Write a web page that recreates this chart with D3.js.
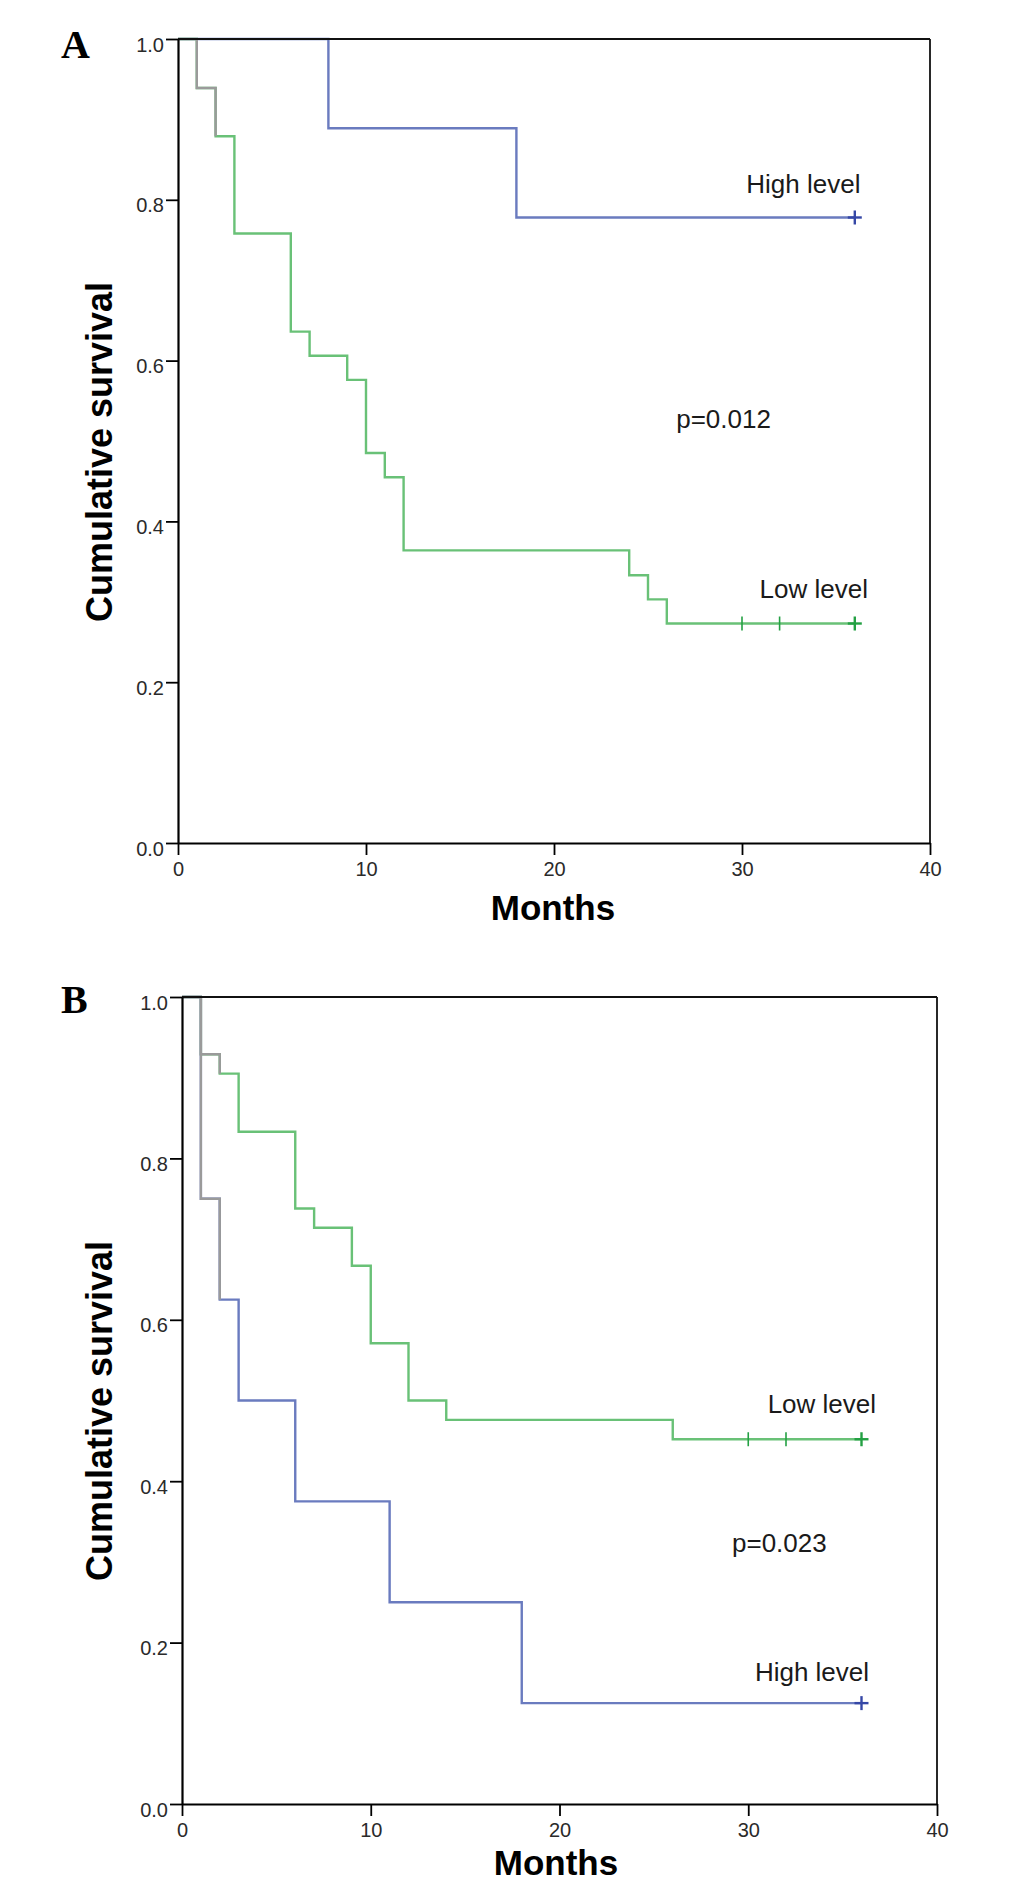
<!DOCTYPE html>
<html lang="en">
<head>
<meta charset="utf-8">
<title>Kaplan-Meier survival curves</title>
<script src="https://d3js.org/d3.v7.min.js"></script>
<style>
    body { margin: 0; background: #fff; }
    .axis-title { font-family: "Liberation Sans", Arial, sans-serif; font-weight: bold; fill: #000; }
    .note { font-family: "Liberation Sans", Arial, sans-serif; font-size: 26px; fill: #1a1a1a; }
    .panel-letter { font-family: "Liberation Serif", "Times New Roman", serif; font-weight: bold; font-size: 40px; }
</style>
</head>
<body>
<div id="chart"></div>
<script>

// axis ticks (shared by both panels)
var monthTicks = [0, 10, 20, 30, 40];
var survivalTicks = [0, 0.2, 0.4, 0.6, 0.8, 1.0];
var followUpEnd = 36;
var grayUntil = 2;   // early part of curves drawn grey in the original

// Panel A
var aHighTimes = [0, 8, 18];
var aHighSurv = [1, 0.889, 0.778];
var aHighCensor = [36];
var aLowTimes = [0, 1, 2, 3, 6, 7, 9, 10, 11, 12, 24, 25, 26];
var aLowSurv = [1, 0.939, 0.879, 0.758, 0.636, 0.606, 0.576, 0.485, 0.455, 0.364, 0.333, 0.303, 0.273];
var aLowCensor = [30, 32, 36];

// Panel B
var bLowTimes = [0, 1, 2, 3, 6, 7, 9, 10, 12, 14, 26];
var bLowSurv = [1, 0.929, 0.905, 0.833, 0.738, 0.714, 0.667, 0.571, 0.5, 0.476, 0.452];
var bLowCensor = [30, 32, 36];
var bHighTimes = [0, 1, 2, 3, 6, 11, 18];
var bHighSurv = [1, 0.75, 0.625, 0.5, 0.375, 0.25, 0.125];
var bHighCensor = [36];

var green = "#69c177", greenDark = "#23a043";
var blue = "#6a7bbf", blueDark = "#3547a6";
var gray = "#9a9a9a";

var w = 1033, h = 1884;

var svg = d3.select("#chart").append("svg")
    .attr("width", w)
    .attr("height", h);

var panels = [
    {
        letter: "A", letterX: 61, letterY: 58,
        left: 178, right: 930, top: 39, bottom: 843,
        yTitle: [112, 452], xTitle: [553, 920],
        curves: [
            { times: aHighTimes, surv: aHighSurv, censor: aHighCensor, color: blue, dark: blueDark, gray: false },
            { times: aLowTimes, surv: aLowSurv, censor: aLowCensor, color: green, dark: greenDark, gray: true }
        ],
        notes: [
            { text: "High level", t: 36.3, s: 0.808, anchor: "end" },
            { text: "p=0.012", t: 26.5, s: 0.516, anchor: "start" },
            { text: "Low level", t: 36.7, s: 0.305, anchor: "end" }
        ]
    },
    {
        letter: "B", letterX: 61, letterY: 1013,
        left: 182, right: 937, top: 997, bottom: 1804,
        yTitle: [112, 1411], xTitle: [556, 1875],
        curves: [
            { times: bLowTimes, surv: bLowSurv, censor: bLowCensor, color: green, dark: greenDark, gray: true },
            { times: bHighTimes, surv: bHighSurv, censor: bHighCensor, color: blue, dark: blueDark, gray: true }
        ],
        notes: [
            { text: "Low level", t: 36.77, s: 0.485, anchor: "end" },
            { text: "p=0.023", t: 29.14, s: 0.312, anchor: "start" },
            { text: "High level", t: 36.4, s: 0.152, anchor: "end" }
        ]
    }
];

panels.forEach(function (p) {
    var x = d3.scaleLinear().domain([0, 40]).range([p.left, p.right]);
    var y = d3.scaleLinear().domain([0, 1]).range([p.bottom, p.top]);
    var g = svg.append("g");

    var line = d3.line()
        .x(function (d) { return x(d[0]); })
        .y(function (d) { return y(d[1]); })
        .curve(d3.curveStepAfter);

    // survival curves
    p.curves.forEach(function (c) {
        var pts = c.times.map(function (t, i) { return [t, c.surv[i]]; });
        pts.push([followUpEnd, c.surv[c.surv.length - 1]]);
        g.append("path")
            .attr("d", line(pts))
            .attr("fill", "none")
            .attr("stroke", c.color)
            .attr("stroke-width", 2.4);
    });

    // grey overlay on the first months
    p.curves.forEach(function (c) {
        if (!c.gray) return;
        var pts = [];
        c.times.forEach(function (t, i) { if (t <= grayUntil) pts.push([t, c.surv[i]]); });
        g.append("path")
            .attr("d", line(pts))
            .attr("fill", "none")
            .attr("stroke", gray)
            .attr("stroke-width", 2.4);
    });

    // censor marks
    p.curves.forEach(function (c) {
        var sEnd = c.surv[c.surv.length - 1];
        c.censor.forEach(function (t) {
            var cx = x(t), cy = y(sEnd);
            var last = t === followUpEnd;
            g.append("line")
                .attr("x1", cx).attr("x2", cx)
                .attr("y1", cy - 7).attr("y2", cy + 7)
                .attr("stroke", c.dark).attr("stroke-width", last ? 2.4 : 1.6);
            if (last) {
                g.append("line")
                    .attr("x1", cx - 7).attr("x2", cx + 7)
                    .attr("y1", cy).attr("y2", cy)
                    .attr("stroke", c.dark).attr("stroke-width", 2.4);
            }
        });
    });

    // frame
    g.append("line").attr("x1", p.left).attr("x2", p.right).attr("y1", p.top).attr("y2", p.top)
        .attr("stroke", "#111").attr("stroke-width", 1.8);
    g.append("line").attr("x1", p.right).attr("x2", p.right).attr("y1", p.top).attr("y2", p.bottom)
        .attr("stroke", "#111").attr("stroke-width", 1.8);

    // axes
    var yAxis = g.append("g")
        .attr("transform", "translate(" + p.left + ",0)")
        .call(d3.axisLeft(y).tickValues(survivalTicks).tickFormat(d3.format(".1f"))
            .tickSize(12).tickSizeOuter(0).tickPadding(2));
    yAxis.selectAll("text").attr("dy", "0.6em");

    var xAxis = g.append("g")
        .attr("transform", "translate(0," + p.bottom + ")")
        .call(d3.axisBottom(x).tickValues(monthTicks).tickFormat(d3.format("d"))
            .tickSize(12).tickSizeOuter(0).tickPadding(7));

    g.selectAll(".domain").attr("stroke", "#000").attr("stroke-width", 2.2);
    g.selectAll(".tick line").attr("stroke", "#000").attr("stroke-width", 1.8);
    g.selectAll(".tick text")
        .style("font-family", "'Liberation Sans', Arial, sans-serif")
        .style("font-size", "20px")
        .style("fill", "#2a2a2a");

    // titles
    g.append("text")
        .attr("class", "axis-title")
        .attr("transform", "translate(" + p.yTitle[0] + "," + p.yTitle[1] + ") rotate(-90)")
        .attr("text-anchor", "middle")
        .style("font-size", "36px")
        .text("Cumulative survival");

    g.append("text")
        .attr("class", "axis-title")
        .attr("x", p.xTitle[0]).attr("y", p.xTitle[1])
        .attr("text-anchor", "middle")
        .style("font-size", "35px")
        .text("Months");

    // annotations
    g.selectAll(".note")
        .data(p.notes)
        .enter()
        .append("text")
        .attr("class", "note")
        .attr("x", function (d) { return x(d.t); })
        .attr("y", function (d) { return y(d.s); })
        .attr("text-anchor", function (d) { return d.anchor; })
        .text(function (d) { return d.text; });

    g.append("text")
        .attr("class", "panel-letter")
        .attr("x", p.letterX).attr("y", p.letterY)
        .text(p.letter);
});

</script>
</body>
</html>
